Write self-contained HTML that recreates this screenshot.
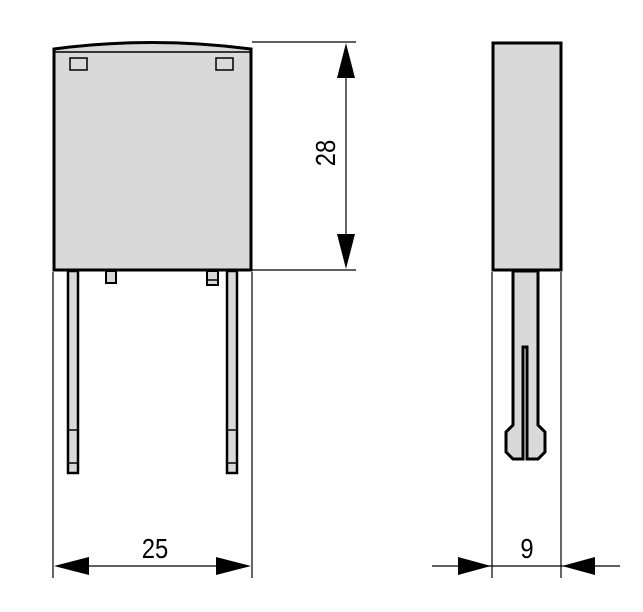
<!DOCTYPE html>
<html><head><style>body{margin:0;background:#fff}</style></head><body>
<svg width="643" height="607" viewBox="0 0 643 607" xmlns="http://www.w3.org/2000/svg" font-family="Liberation Sans, sans-serif">
<g stroke="#000" fill="none" stroke-width="1.2">
<line x1="252" y1="42" x2="356" y2="42"/>
<line x1="252" y1="270" x2="356" y2="270"/>
<line x1="346" y1="75" x2="346" y2="237"/>
<line x1="53" y1="272" x2="53" y2="578"/>
<line x1="252" y1="272" x2="252" y2="578"/>
<line x1="88" y1="566" x2="217" y2="566"/>
<line x1="492" y1="272" x2="492" y2="578"/>
<line x1="561" y1="272" x2="561" y2="578"/>
<line x1="432" y1="566" x2="620" y2="566"/>
</g>
<g fill="#000">
<polygon points="346,43 337,78 355,78"/>
<polygon points="346,269 337,234 355,234"/>
<polygon points="54,566 89,557 89,575"/>
<polygon points="251,566 216,557 216,575"/>
<polygon points="491,566 458,557 458,575"/>
<polygon points="562,566 595,557 595,575"/>
</g>
<text transform="translate(155,558) scale(0.85,1)" font-size="28" text-anchor="middle">25</text>
<text transform="translate(527,558) scale(0.85,1)" font-size="28" text-anchor="middle">9</text>
<text transform="translate(335,153) rotate(-90) scale(0.85,1)" font-size="28" text-anchor="middle">28</text>
<g stroke="#000" fill="#d9d9d9" stroke-width="3">
<path d="M54,49 Q152,36 251,49 L251,270 L54,270 Z"/>
<rect x="68" y="271" width="10" height="202" stroke-width="2.5"/>
<rect x="227" y="271" width="10" height="202" stroke-width="2.5"/>
<rect x="106" y="271" width="10" height="12" stroke-width="2"/>
<rect x="207" y="271" width="11" height="14" stroke-width="2"/>
<rect x="493" y="43" width="68" height="227"/>
<path d="M513,271 L513,425 L506,432 L506,452 L513,459 L523,459 L523,347 L527,347 L527,459 L538,459 L545,452 L545,432 L538,425 L538,271 Z"/>
</g>
<g stroke="#000" fill="none" stroke-width="1.5">
<line x1="54" y1="52" x2="251" y2="52"/>
<rect x="70" y="58" width="17" height="12"/>
<rect x="216" y="58" width="17" height="12"/>
<line x1="68" y1="430" x2="78" y2="430"/><line x1="68" y1="463" x2="78" y2="463"/>
<line x1="227" y1="430" x2="237" y2="430"/><line x1="227" y1="463" x2="237" y2="463"/>
<line x1="207" y1="280" x2="218" y2="280"/>
</g>
</svg>
</body></html>
